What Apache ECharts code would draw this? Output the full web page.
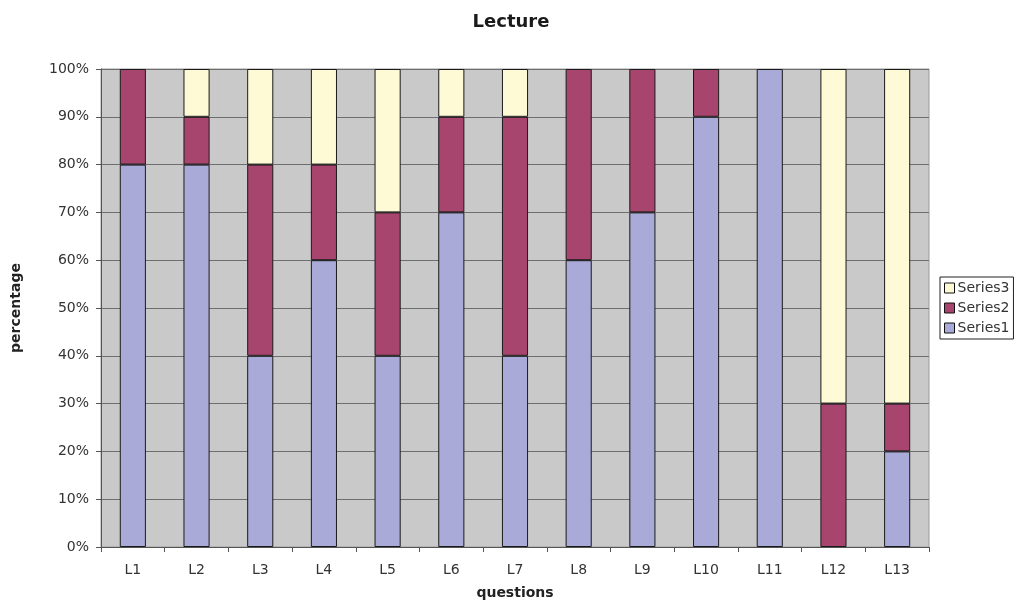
<!DOCTYPE html>
<html>
<head>
<meta charset="utf-8">
<script src="https://cdn.jsdelivr.net/npm/echarts@6/dist/echarts.min.js"></script>
<style>
  html, body { margin: 0; padding: 0; background: #ffffff; }
  #chart { width: 1022px; height: 608px; }
</style>
</head>
<body>
<div id="chart"></div>
<script>
// Lecture feedback: share of answers per question
const categories = ['L1','L2','L3','L4','L5','L6','L7','L8','L9','L10','L11','L12','L13'];
const series1 = [80, 80, 40, 60, 40, 70, 40, 60, 70, 90, 100, 0, 20];
const series2 = [20, 10, 40, 20, 30, 20, 50, 40, 30, 10, 0, 30, 10];
const series3 = [0, 10, 20, 20, 30, 10, 10, 0, 0, 0, 0, 70, 70];
const yTicks = [0, 10, 20, 30, 40, 50, 60, 70, 80, 90, 100];

const FONT = 'DejaVu Sans';
const colors = { Series1: '#aaaad8', Series2: '#a8456f', Series3: '#fffad6' };

function makeSeries(name, values) {
  return {
    name: name,
    type: 'bar',
    stack: 'total',
    barWidth: '41%',
    data: values.map(v => (v === 0 ? '-' : v)),
    itemStyle: { color: colors[name], borderColor: '#1a1a1a', borderWidth: 1 },
    emphasis: { disabled: true }
  };
}

const chart = echarts.init(document.getElementById('chart'), null, { renderer: 'canvas' });
chart.setOption({
  animation: false,
  textStyle: { fontFamily: FONT },
  title: {
    text: 'Lecture',
    left: 'center',
    top: 8,
    textStyle: { fontFamily: FONT, fontSize: 18, fontWeight: 'bold', color: '#1a1a1a' }
  },
  legend: {
    orient: 'vertical',
    left: 940,
    top: 277,
    data: ['Series3', 'Series2', 'Series1'],
    itemWidth: 10,
    itemHeight: 10,
    itemGap: 6,
    padding: [4, 4, 4, 4],
    borderColor: '#222',
    borderWidth: 1,
    backgroundColor: '#ffffff',
    icon: 'rect',
    itemStyle: { borderColor: '#111', borderWidth: 1 },
    textStyle: { fontFamily: FONT, fontSize: 14, color: '#333', padding: [0, 0, 0, -2] }
  },
  grid: {
    left: 101,
    right: 93,
    top: 69,
    bottom: 61,
    show: true,
    backgroundColor: '#c9c9c9',
    borderColor: '#9a9a9a',
    borderWidth: 1
  },
  xAxis: {
    type: 'category',
    data: categories,
    name: 'questions',
    nameLocation: 'middle',
    nameGap: 39,
    nameTextStyle: { fontFamily: FONT, fontSize: 14, fontWeight: 'bold', color: '#222' },
    axisLine: { lineStyle: { color: '#555', width: 1 } },
    axisTick: { show: true, length: 5, lineStyle: { color: '#555' } },
    axisLabel: { fontFamily: FONT, fontSize: 14, color: '#333', margin: 16 }
  },
  yAxis: {
    type: 'value',
    min: 0,
    max: 100,
    interval: 10,
    name: 'percentage',
    nameLocation: 'middle',
    nameGap: 78,
    nameTextStyle: { fontFamily: FONT, fontSize: 14, fontWeight: 'bold', color: '#222' },
    axisLine: { show: true, lineStyle: { color: '#555', width: 1 } },
    axisTick: { show: true, length: 5, lineStyle: { color: '#555' } },
    axisLabel: {
      fontFamily: FONT, fontSize: 14, color: '#333', margin: 12,
      padding: [4, 0, 0, 0],
      formatter: v => (yTicks.includes(v) ? v + '%' : '')
    },
    splitLine: { show: true, lineStyle: { color: '#6e6e6e', width: 1 } }
  },
  series: [
    makeSeries('Series1', series1),
    makeSeries('Series2', series2),
    makeSeries('Series3', series3)
  ]
});
</script>
</body>
</html>
